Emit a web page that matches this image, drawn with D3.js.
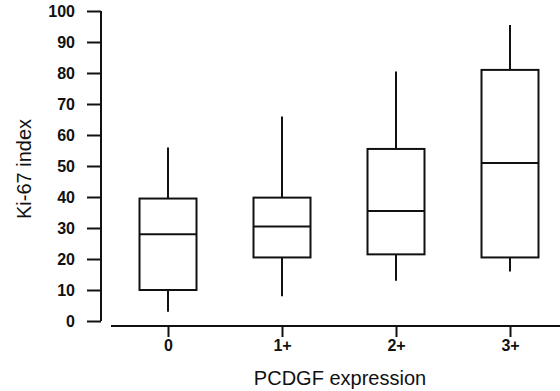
<!DOCTYPE html>
<html>
<head>
<meta charset="utf-8">
<script src="https://cdn.jsdelivr.net/npm/d3@7"></script>
<style>
  body { margin: 0; background: #fff; }
  svg { display: block; }
</style>
</head>
<body>
<svg id="chart" width="560" height="391"></svg>
<script>
// categories along x
const groups = ["0", "1+", "2+", "3+"];
// box-plot summaries per group
const whiskerLow = [3, 8, 13, 16];
const q1 = [10, 20.5, 21.5, 20.5];
const median = [28, 30.5, 35.5, 51];
const q3 = [39.5, 39.8, 55.5, 81];
const whiskerHigh = [56, 66, 80.5, 95.5];
const yTicks = [0, 10, 20, 30, 40, 50, 60, 70, 80, 90, 100];

const svg = d3.select("#chart");
const font = "Arial, 'Liberation Sans', sans-serif";

const x = d3.scalePoint().domain(groups).range([168, 510]);
const y = d3.scaleLinear().domain([0, 100]).range([321, 11]);
const boxW = x.step() * 0.5;

const data = groups.map((g, i) => ({
  g,
  lo: whiskerLow[i],
  q1: q1[i],
  med: median[i],
  q3: q3[i],
  hi: whiskerHigh[i]
}));

// y axis
const yAxis = svg
  .append("g")
  .attr("transform", "translate(101,0)")
  .call(
    d3
      .axisLeft(y)
      .tickValues(yTicks)
      .tickSize(14)
      .tickPadding(12)
  );
yAxis.select(".domain").attr("d", `M0,${y(0)}V${y(100)}`);

// x axis (line runs off to the right edge)
const xAxis = svg
  .append("g")
  .attr("transform", "translate(0,326)")
  .call(
    d3
      .axisBottom(x)
      .tickSize(11)
      .tickPadding(3)
  );
xAxis.select(".domain").attr("d", "M111,0H560");

svg
  .selectAll(".tick line, .domain")
  .attr("stroke", "#111")
  .attr("stroke-width", 2);
svg
  .selectAll(".tick text")
  .attr("fill", "#111")
  .style("font-family", font)
  .style("font-weight", "bold")
  .style("font-size", "16px");

// boxes
const box = svg
  .append("g")
  .selectAll("g")
  .data(data)
  .enter()
  .append("g")
  .attr("stroke", "#111")
  .attr("stroke-width", 2)
  .attr("fill", "none");

box
  .append("line")
  .attr("x1", d => x(d.g))
  .attr("x2", d => x(d.g))
  .attr("y1", d => y(d.hi))
  .attr("y2", d => y(d.q3));

box
  .append("line")
  .attr("x1", d => x(d.g))
  .attr("x2", d => x(d.g))
  .attr("y1", d => y(d.q1))
  .attr("y2", d => y(d.lo));

box
  .append("rect")
  .attr("x", d => x(d.g) - boxW / 2)
  .attr("width", boxW)
  .attr("y", d => y(d.q3))
  .attr("height", d => y(d.q1) - y(d.q3));

box
  .append("line")
  .attr("x1", d => x(d.g) - boxW / 2)
  .attr("x2", d => x(d.g) + boxW / 2)
  .attr("y1", d => y(d.med))
  .attr("y2", d => y(d.med));

// axis titles
svg
  .append("text")
  .attr("transform", `translate(31,${(y(0) + y(100)) / 2 + 3}) rotate(-90)`)
  .attr("text-anchor", "middle")
  .style("font-family", font)
  .style("font-size", "20px")
  .attr("fill", "#111")
  .text("Ki-67 index");

svg
  .append("text")
  .attr("x", 340)
  .attr("y", 385)
  .attr("text-anchor", "middle")
  .style("font-family", font)
  .style("font-size", "20px")
  .attr("fill", "#111")
  .text("PCDGF expression");
</script>
</body>
</html>
